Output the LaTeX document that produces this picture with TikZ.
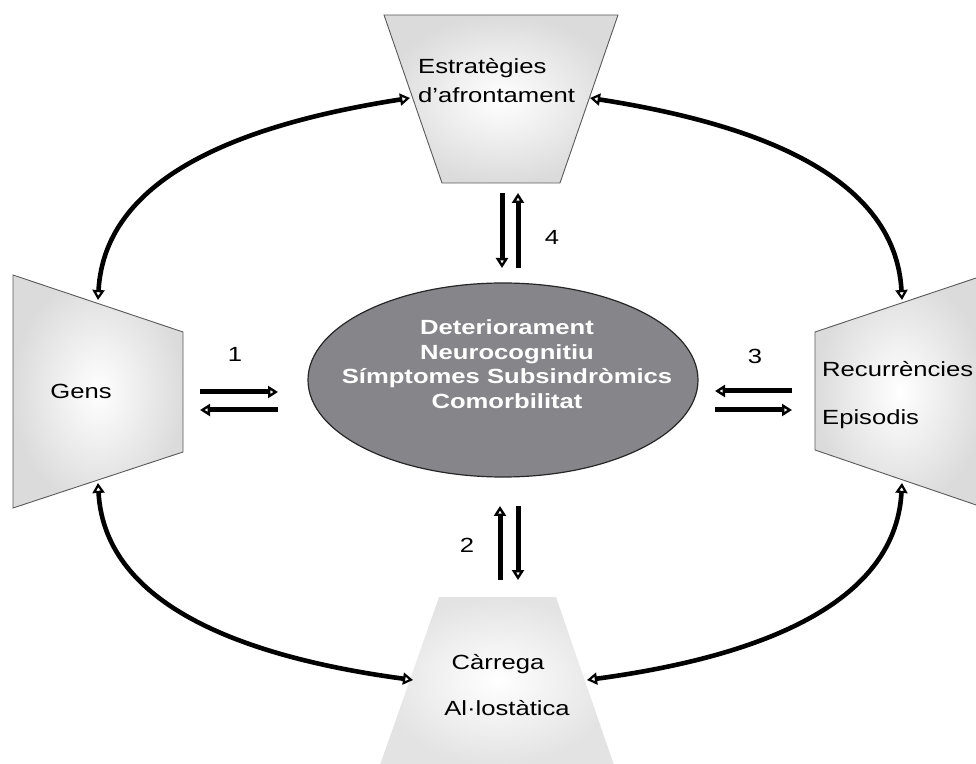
\documentclass[tikz,border=0pt]{standalone}
\usepackage{fontspec}
\setmainfont{Liberation Sans}[FakeStretch=1.25]
\usetikzlibrary{arrows.meta,shapes.geometric}

\definecolor{coregray}{RGB}{134,134,138}
\tikzset{
  box/.style={draw=black!65, line width=0.9pt, shading=radial, inner color=white, outer color=black!14},
  basebox/.style={shading=radial, inner color=white, outer color=black!11},
  core/.style={ellipse, draw=black!85, line width=1.2pt, fill=coregray, minimum width=390pt, minimum height=194pt},
  flow/.style={line width=5pt, -{Triangle[open, length=10pt, width=12pt, line width=2.4pt]}},
  loop/.style={line width=4.6pt, {Triangle[open, length=10pt, width=12pt, line width=2.2pt]}-{Triangle[open, length=10pt, width=12pt, line width=2.2pt]}},
  lbl/.style={font=\fontsize{20.5}{24}\selectfont, inner sep=0pt},
  corelbl/.style={font=\fontsize{20.5}{24.5}\selectfont\bfseries, text=white, align=center, inner sep=0pt},
}

\begin{document}
\begin{tikzpicture}[x=1pt,y=1pt]
\useasboundingbox (0,0) rectangle (976,763);
\clip (0,0) rectangle (976,763);
%---------------------Shapes------------------%
\draw[box] (384,748) -- (618,748) -- (560,580) -- (442,580) -- cycle;
\draw[box] (13,488) -- (183,431) -- (183,311) -- (13,255) -- cycle;
\draw[box] (815,431) -- (985,488) -- (985,255) -- (815,313) -- cycle;
\shade[basebox] (439,166) -- (556,166) -- (614,-2) -- (380,-2) -- cycle;
\node[core] (core) at (503,383) {};
%--------------------------------------------------------%

%---------------------Texts------------------%
\node[lbl, anchor=base west] (strat) at (418,689) {Estratègies};
\node[lbl, anchor=base west] (afront) at (418,660) {d’afrontament};
\node[lbl, anchor=base] (gens) at (81,364) {Gens};
\node[lbl, anchor=base west] (recur) at (822,386) {Recurrències};
\node[lbl, anchor=base west] (epis) at (822,338) {Episodis};
\node[lbl, anchor=base] (carrega) at (498,94) {Càrrega};
\node[lbl, anchor=base] (alost) at (507,48) {Al·lostàtica};
\node[corelbl] (corelbl) at (507,399) {Deteriorament\\Neurocognitiu\\Símptomes Subsindròmics\\Comorbilitat};
%--------------------------------------------------------%

%---------------------Anchor points------------------%
\coordinate (gensT) at (98,463);
\coordinate (gensB) at (98,280);
\coordinate (recurT) at (902,463);
\coordinate (recurB) at (902,280);
\coordinate (stratL) at (410,665);
\coordinate (stratR) at (590,665);
\coordinate (carrL) at (413,83);
\coordinate (carrR) at (587,83);

\coordinate (p1a) at (200,371); \coordinate (p1b) at (278,371);
\coordinate (p1c) at (278,353); \coordinate (p1d) at (200,353);
\coordinate (p3a) at (792,372); \coordinate (p3b) at (715,372);
\coordinate (p3c) at (715,353); \coordinate (p3d) at (792,353);
\coordinate (p4a) at (502,570); \coordinate (p4b) at (502,495);
\coordinate (p4c) at (518,495); \coordinate (p4d) at (518,570);
\coordinate (p2a) at (500,183); \coordinate (p2b) at (500,257);
\coordinate (p2c) at (518,257); \coordinate (p2d) at (518,183);
%--------------------------------------------------------%

%---------------------Arrows------------------%
\draw[flow] (p1a) -- (p1b);
\draw[flow] (p1c) -- (p1d);
\draw[flow] (p3a) -- (p3b);
\draw[flow] (p3c) -- (p3d);
\draw[flow] (p4a) -- (p4b);
\draw[flow] (p4c) -- (p4d);
\draw[flow] (p2a) -- (p2b);
\draw[flow] (p2c) -- (p2d);

\node[lbl, anchor=base] (n1) at (235,401) {1};
\node[lbl, anchor=base] (n3) at (755,399) {3};
\node[lbl, anchor=base] (n4) at (552,518) {4};
\node[lbl, anchor=base] (n2) at (467,211) {2};

\draw[loop] (gensT) .. controls (105,590) and (250,640) .. (stratL);
\draw[loop] (recurT) .. controls (895,590) and (750,640) .. (stratR);
\draw[loop] (gensB) .. controls (105,155) and (250,105) .. (carrL);
\draw[loop] (recurB) .. controls (895,155) and (750,105) .. (carrR);
%--------------------------------------------------------%
\end{tikzpicture}
\end{document}
